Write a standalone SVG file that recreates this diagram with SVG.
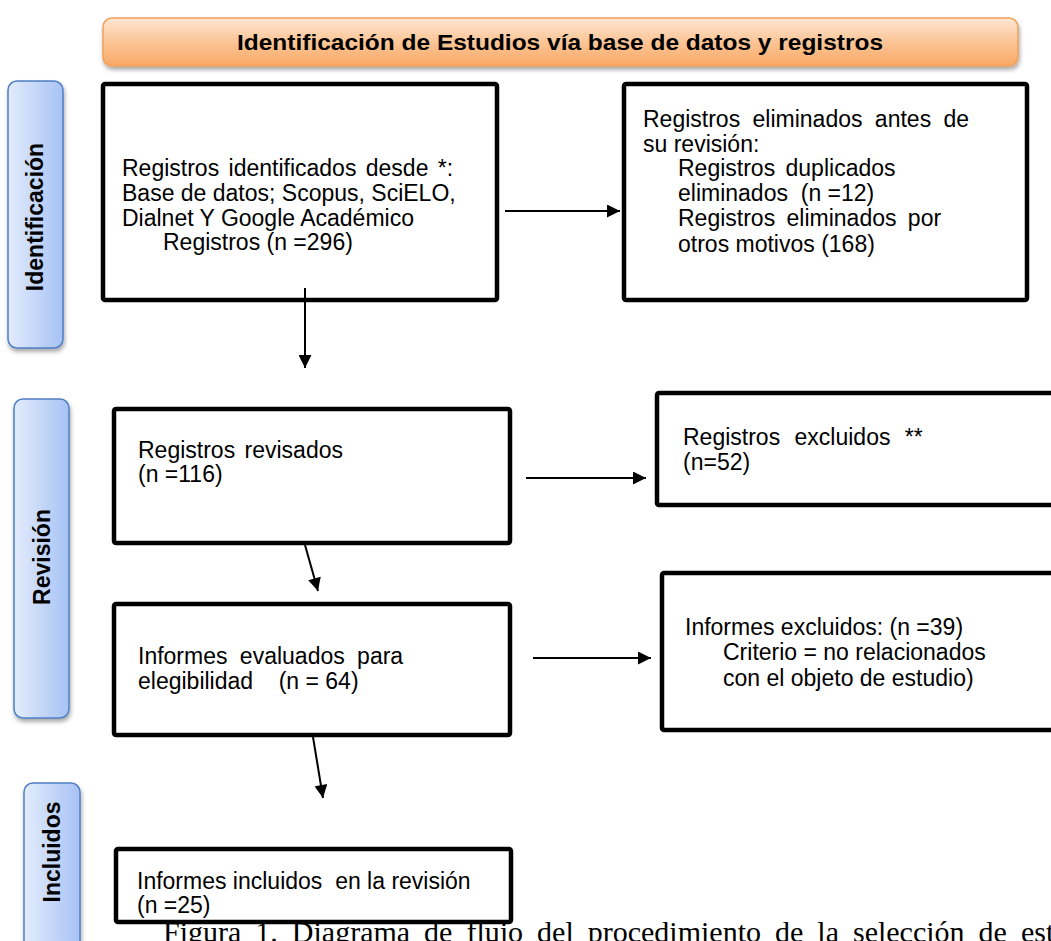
<svg xmlns="http://www.w3.org/2000/svg" width="1051" height="941" viewBox="0 0 1051 941">
<style>
.box{fill:#fff;stroke:#000;stroke-width:4.5}
.side{fill:url(#blue);stroke:#4f7fc4;stroke-width:1.5}
.t{font-family:"Liberation Sans",Arial,sans-serif;font-size:23px;fill:#000}
.sl{font-family:"Liberation Sans",Arial,sans-serif;font-size:23px;font-weight:bold;fill:#000;text-anchor:middle}
.hd{font-family:"Liberation Sans",Arial,sans-serif;font-size:22px;font-weight:bold;fill:#000;text-anchor:middle}
.cap{font-family:"Liberation Serif","Times New Roman",serif;font-size:30px;fill:#000}
.c{stroke:#000;stroke-width:2;fill:none;marker-end:url(#ah)}
</style>
<defs>
<linearGradient id="orange" x1="0" y1="0" x2="0" y2="1">
<stop offset="0" stop-color="#fde6d2"/>
<stop offset="0.5" stop-color="#fbc596"/>
<stop offset="1" stop-color="#f8a866"/>
</linearGradient>
<linearGradient id="blue" x1="0" y1="0" x2="1" y2="0">
<stop offset="0" stop-color="#e3ecfc"/>
<stop offset="1" stop-color="#a7c2f4"/>
</linearGradient>
<filter id="sh" x="-10%" y="-10%" width="130%" height="130%">
<feDropShadow dx="1" dy="3" stdDeviation="2" flood-color="#000" flood-opacity="0.35"/>
</filter>
<marker id="ah" viewBox="0 0 10 10" refX="10" refY="5" markerWidth="7" markerHeight="6.5" markerUnits="strokeWidth" orient="auto">
<path d="M0,0 L10,5 L0,10 z" fill="#000"/>
</marker>
</defs>

<g id="header">
<rect x="103" y="18" width="915" height="48" rx="9" fill="url(#orange)" stroke="#f1a05a" stroke-width="1.5" filter="url(#sh)"/>
<text class="hd" x="560" y="50" textLength="646" lengthAdjust="spacingAndGlyphs">Identificación de Estudios vía base de datos y registros</text>
</g>

<g id="label-identificacion">
<rect class="side" x="8" y="81" width="55" height="267" rx="9" filter="url(#sh)"/>
<text class="sl" transform="translate(43,217) rotate(-90)">Identificación</text>
</g>
<g id="label-revision">
<rect class="side" x="14" y="399" width="55" height="319" rx="9" filter="url(#sh)"/>
<text class="sl" transform="translate(50,557) rotate(-90)">Revisión</text>
</g>
<g id="label-incluidos">
<rect class="side" x="24" y="783" width="56" height="175" rx="9" filter="url(#sh)"/>
<text class="sl" transform="translate(60,852) rotate(-90)">Incluidos</text>
</g>

<g id="n1">
<rect class="box" x="103" y="84" width="394" height="216" rx="2"/>
<text class="t" x="122" y="176" word-spacing="3">Registros identificados desde *:</text>
<text class="t" x="122" y="201">Base de datos; Scopus, SciELO,</text>
<text class="t" x="122" y="226">Dialnet Y Google Académico</text>
<text class="t" x="163" y="250">Registros (n =296)</text>
</g>

<g id="n2">
<rect class="box" x="624" y="84" width="403" height="216" rx="2"/>
<text class="t" x="643" y="127" word-spacing="6">Registros eliminados antes de</text>
<text class="t" x="643" y="152">su revisión:</text>
<text class="t" x="678" y="176" word-spacing="4">Registros duplicados</text>
<text class="t" x="678" y="201" xml:space="preserve">eliminados  (n =12)</text>
<text class="t" x="678" y="226" word-spacing="5">Registros eliminados por</text>
<text class="t" x="678" y="252">otros motivos (168)</text>
</g>

<g id="n3">
<rect class="box" x="114" y="409" width="396" height="134" rx="2"/>
<text class="t" x="138" y="458" word-spacing="3">Registros revisados</text>
<text class="t" x="138" y="482">(n =116)</text>
</g>

<g id="n4">
<rect class="box" x="657" y="393" width="410" height="112" rx="2"/>
<text class="t" x="683" y="445" word-spacing="8">Registros excluidos **</text>
<text class="t" x="683" y="470">(n=52)</text>
</g>

<g id="n5">
<rect class="box" x="114" y="604" width="396" height="131" rx="2"/>
<text class="t" x="138" y="664" word-spacing="6">Informes evaluados para</text>
<text class="t" x="138" y="689" xml:space="preserve">elegibilidad    (n = 64)</text>
</g>

<g id="n6">
<rect class="box" x="662" y="573" width="410" height="157" rx="2"/>
<text class="t" x="685" y="635">Informes excluidos: (n =39)</text>
<text class="t" x="723" y="660">Criterio = no relacionados</text>
<text class="t" x="723" y="686">con el objeto de estudio)</text>
</g>

<g id="n7">
<rect class="box" x="116" y="849" width="395" height="73" rx="2"/>
<text class="t" x="137" y="889" xml:space="preserve">Informes incluidos  en la revisión</text>
<text class="t" x="137" y="913">(n =25)</text>
</g>

<g id="connectors">
<line class="c" x1="505" y1="211" x2="620" y2="211"/>
<line class="c" x1="305" y1="288" x2="305" y2="368"/>
<line class="c" x1="526" y1="478" x2="646" y2="478"/>
<line class="c" x1="305" y1="545" x2="318" y2="591"/>
<line class="c" x1="533" y1="658" x2="651" y2="658"/>
<line class="c" x1="313" y1="737" x2="323" y2="798"/>
</g>

<text class="cap" x="163" y="942" word-spacing="6.5">Figura 1. Diagrama de flujo del procedimiento de la selección de estudios</text>
</svg>
